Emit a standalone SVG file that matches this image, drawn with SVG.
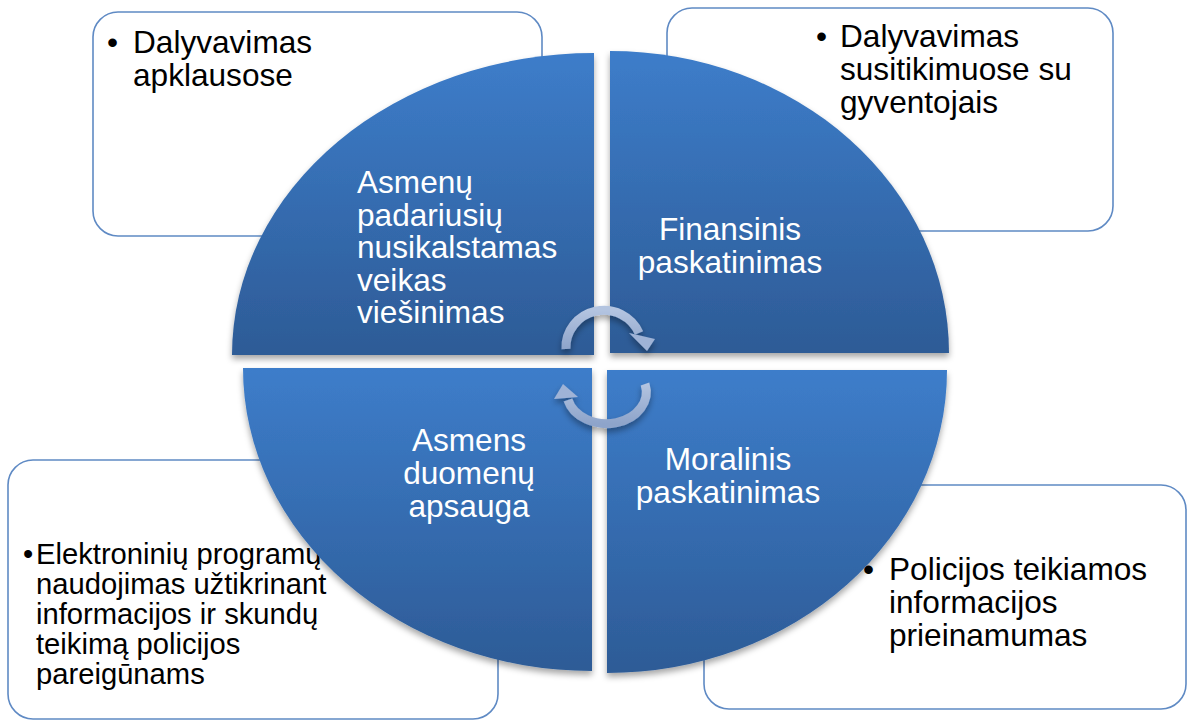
<svg xmlns="http://www.w3.org/2000/svg" width="1187" height="722" viewBox="0 0 1187 722">
<style>
.box{fill:#ffffff;stroke:#5F8AC4;stroke-width:1.6}
.q{fill:url(#qg);filter:url(#sh)}
.tb{font-family:"Liberation Sans",Arial,sans-serif;font-size:31.6px;fill:#000000}
.ts{font-family:"Liberation Sans",Arial,sans-serif;font-size:29.2px;fill:#000000}
.tw{font-family:"Liberation Sans",Arial,sans-serif;font-size:31.6px;fill:#ffffff}
.arc{fill:none;stroke:url(#ag);stroke-width:9}
.ah{fill:#9FB3D6}
</style>
<defs>
<linearGradient id="qg" x1="0" y1="0" x2="0" y2="1">
<stop offset="0" stop-color="#3D7DCA"/>
<stop offset="1" stop-color="#2D5B96"/>
</linearGradient>
<linearGradient id="ag" x1="0" y1="0" x2="0" y2="1">
<stop offset="0" stop-color="#B3C4E0"/>
<stop offset="1" stop-color="#8EA4CA"/>
</linearGradient>
<filter id="sh" x="-10%" y="-10%" width="120%" height="125%">
<feDropShadow dx="0" dy="4" stdDeviation="3" flood-color="#000000" flood-opacity="0.35"/>
</filter>
</defs>
<g id="box-tl">
<rect class="box" x="93" y="12" width="449" height="224" rx="25"/>
<text class="tb" x="107" y="53">•</text>
<text class="tb" x="133" y="53">Dalyvavimas</text>
<text class="tb" x="133" y="86">apklausose</text>
</g>
<g id="box-tr">
<rect class="box" x="667" y="8" width="446" height="223" rx="25"/>
<text class="tb" x="816" y="47">•</text>
<text class="tb" x="840" y="47">Dalyvavimas</text>
<text class="tb" x="840" y="80">susitikimuose su</text>
<text class="tb" x="840" y="113">gyventojais</text>
</g>
<g id="box-bl">
<rect class="box" x="8" y="460" width="490" height="259" rx="25"/>
<text class="ts" x="23" y="564">•</text>
<text class="ts" x="36" y="564">Elektroninių programų</text>
<text class="ts" x="36" y="594">naudojimas užtikrinant</text>
<text class="ts" x="36" y="624">informacijos ir skundų</text>
<text class="ts" x="36" y="654">teikimą policijos</text>
<text class="ts" x="36" y="684">pareigūnams</text>
</g>
<g id="box-br">
<rect class="box" x="704" y="485" width="482" height="224" rx="25"/>
<text class="tb" x="863" y="580">•</text>
<text class="tb" x="889" y="580">Policijos teikiamos</text>
<text class="tb" x="889" y="613">informacijos</text>
<text class="tb" x="889" y="646">prieinamumas</text>
</g>
<g id="q-tl">
<path class="q" d="M594 355 L232 355 A362 302 0 0 1 594 53 Z"/>
<text class="tw" x="357" y="193">Asmenų</text>
<text class="tw" x="357" y="225.5">padariusių</text>
<text class="tw" x="357" y="258">nusikalstamas</text>
<text class="tw" x="357" y="290.5">veikas</text>
<text class="tw" x="357" y="323">viešinimas</text>
</g>
<g id="q-tr">
<path class="q" d="M610 353 L610 51 A339 302 0 0 1 949 353 Z"/>
<text class="tw" x="730" y="240" text-anchor="middle">Finansinis</text>
<text class="tw" x="730" y="272.5" text-anchor="middle">paskatinimas</text>
</g>
<g id="q-bl">
<path class="q" d="M592 368 L592 671 A349 303 0 0 1 243 368 Z"/>
<text class="tw" x="469" y="451" text-anchor="middle">Asmens</text>
<text class="tw" x="469" y="484" text-anchor="middle">duomenų</text>
<text class="tw" x="469" y="517" text-anchor="middle">apsauga</text>
</g>
<g id="q-br">
<path class="q" d="M607 370 L947 370 A340 303 0 0 1 607 673 Z"/>
<text class="tw" x="728" y="470" text-anchor="middle">Moralinis</text>
<text class="tw" x="728" y="503" text-anchor="middle">paskatinimas</text>
</g>
<g id="connectors" filter="url(#sh)">
<path class="arc" d="M566 349 A38 37 0 0 1 639 333"/>
<polygon class="ah" points="629,333 655,339 647,351"/>
<path class="arc" d="M645 384 A39 31 0 0 1 568 400"/>
<polygon class="ah" points="554,399 578,397 563,384"/>
</g>
</svg>
